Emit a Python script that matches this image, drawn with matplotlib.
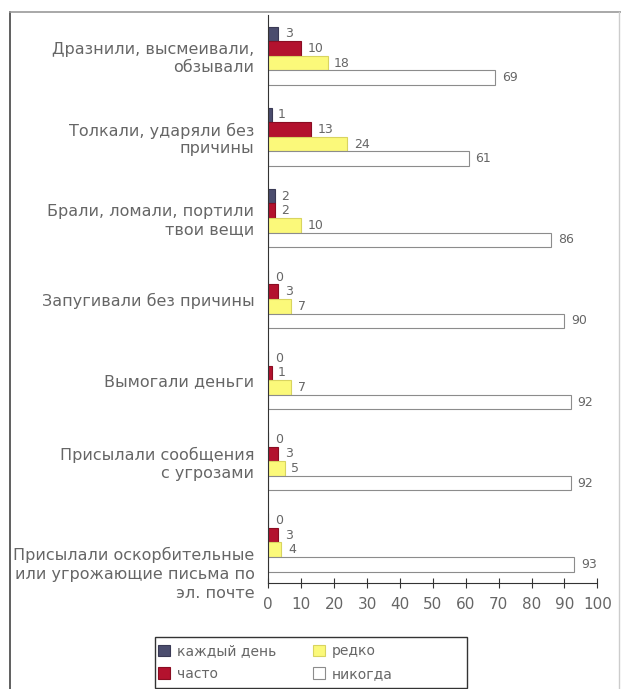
import numpy as np
import matplotlib
matplotlib.use("Agg")
import matplotlib.pyplot as plt
from matplotlib.patches import Rectangle
from matplotlib.transforms import ScaledTranslation

categories = ["Дразнили, высмеивали,\nобзывали",
              "Толкали, ударяли без\nпричины",
              "Брали, ломали, портили\nтвои вещи",
              "Запугивали без причины",
              "Вымогали деньги",
              "Присылали сообщения\nс угрозами",
              "Присылали оскорбительные\nили угрожающие письма по\nэл. почте"]
series_names = ["каждый день", "часто", "редко", "никогда"]
every_day = [3, 1, 2, 0, 0, 0, 0]
often = [10, 13, 2, 3, 1, 3, 3]
rarely = [18, 24, 10, 7, 7, 5, 4]
never = [69, 61, 86, 90, 92, 92, 93]

series = [every_day, often, rarely, never]
colors = ["#4b4d6e", "#b3122e", "#fbf97a", "#ffffff"]
edges = ["#3a3a55", "#8a0d22", "#d8d460", "#8c8c8c"]
grey = "#666666"

fig = plt.figure(figsize=(6.21, 6.89), dpi=100)
ax = fig.add_axes([0.432, 0.154, 0.530, 0.824])

y = np.arange(len(categories))
h = 0.18
for i, vals in enumerate(series):
    pos = y - 1.5 * h + i * h
    ax.barh(pos, vals, height=h, color=colors[i], edgecolor=edges[i],
            linewidth=0.8, label=series_names[i])
    for p, v in zip(pos, vals):
        ax.text(v + 2, p, str(v), va="center", ha="left", fontsize=9, color=grey)

ax.set_xlim(0, 100)
ax.set_ylim(len(categories) - 0.5, -0.5)
ax.set_xticks(range(0, 101, 10))
ax.tick_params(axis="x", direction="inout", length=7, colors="#333333",
               labelcolor=grey, labelsize=11, pad=7)
ax.set_yticks(y)
ax.set_yticklabels(categories, fontsize=11.5, color=grey, ha="right")
ax.tick_params(axis="y", length=0, pad=10)
for s in ["top", "right"]:
    ax.spines[s].set_visible(False)
ax.spines["left"].set_color("#333333")
ax.spines["bottom"].set_color("#333333")

# last category label sits lower in the original
last = ax.get_yticklabels()[-1]
last.set_linespacing(1.35)
last.set_transform(last.get_transform() + ScaledTranslation(0, -0.28, fig.dpi_scale_trans))

# legend box is wider than its content, so draw the frame separately
fig.add_artist(Rectangle((155 / 621, 1 / 689), 312 / 621, 51 / 689,
                         transform=fig.transFigure, fill=False,
                         edgecolor="#333333", linewidth=1.0))
leg = fig.legend(loc="lower left", bbox_to_anchor=(151 / 621, 0.002),
                 ncol=2, borderaxespad=0, frameon=False,
                 fontsize=10, handlelength=0.9, handleheight=0.9,
                 handletextpad=0.5, columnspacing=2.6,
                 borderpad=0.5, labelspacing=0.6)
for t in leg.get_texts():
    t.set_color(grey)

# scanned page frame
fig.add_artist(plt.Line2D([0.016, 0.016], [0.0, 0.983], color="#444444", lw=1.2))
fig.add_artist(plt.Line2D([0.016, 1.0], [0.983, 0.983], color="#999999", lw=1.2))
fig.add_artist(plt.Line2D([0.997, 0.997], [0.0, 0.983], color="#cccccc", lw=1.0))

fig.savefig("out.png", dpi=100)
